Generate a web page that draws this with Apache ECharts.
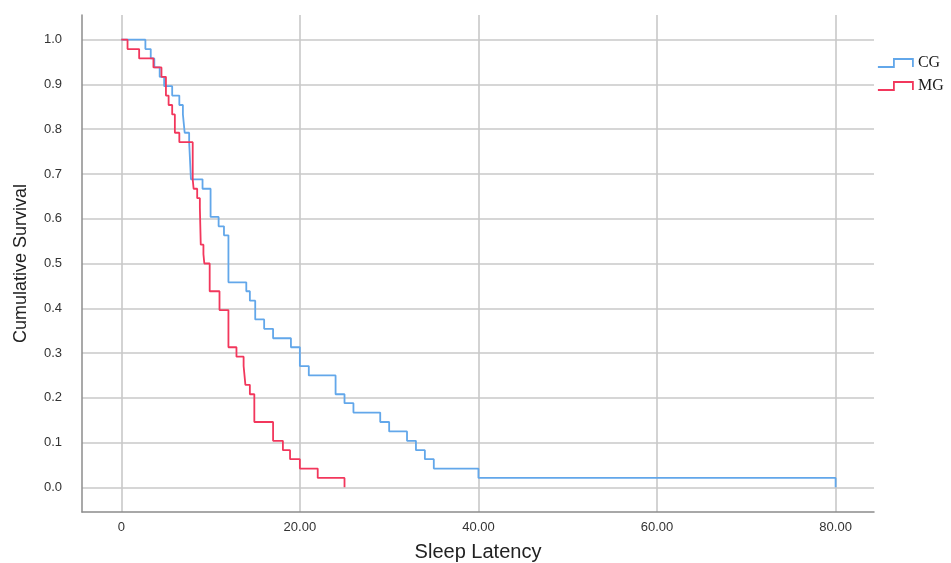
<!DOCTYPE html>
<html lang="en">
<head>
	<meta charset="utf-8">
	<title>Sleep Latency survival</title>
	<script src="https://cdn.jsdelivr.net/npm/echarts@6.0.0/dist/echarts.min.js"></script>
	<style>
		html, body { margin: 0; padding: 0; background: #fff; }
		#chart { width: 951px; height: 563px; }
	</style>
</head>
<body>
<div id="chart"></div>
<script>
// Kaplan-Meier steps: time and survival after each event
var cgTime = [0, 2.7, 3.3, 3.7, 4.3, 4.8, 5.7, 6.5, 6.9, 7.1, 7.6, 7.8, 9.1, 10.0, 10.9, 11.5, 12.0, 14.0, 14.4, 15.0, 16.0, 17.0, 19.0, 20.0, 21.0, 24.0, 25.0, 26.0, 29.0, 30.0, 32.0, 33.0, 34.0, 35.0, 40.0, 80.0];
var cgSurv = [1.0, 0.979, 0.958, 0.938, 0.917, 0.896, 0.875, 0.854, 0.833, 0.792, 0.771, 0.688, 0.667, 0.604, 0.583, 0.563, 0.458, 0.438, 0.417, 0.375, 0.354, 0.333, 0.313, 0.271, 0.25, 0.208, 0.188, 0.167, 0.146, 0.125, 0.104, 0.083, 0.063, 0.042, 0.021, 0];
var mgTime = [0, 0.7, 2.0, 3.6, 4.5, 5.0, 5.3, 5.7, 6.0, 6.5, 8.0, 8.1, 8.5, 8.8, 8.9, 9.2, 9.3, 9.9, 11.0, 12.0, 12.9, 13.7, 13.9, 14.4, 14.9, 17.0, 18.1, 18.9, 20.0, 22.0, 25.0];
var mgSurv = [1.0, 0.979, 0.958, 0.938, 0.917, 0.875, 0.854, 0.833, 0.792, 0.771, 0.688, 0.667, 0.646, 0.625, 0.542, 0.521, 0.5, 0.438, 0.396, 0.313, 0.292, 0.271, 0.229, 0.208, 0.146, 0.104, 0.083, 0.063, 0.042, 0.021, 0];
var xTicks = [0, 20, 40, 60, 80];
var yTicks = [0, 0.1, 0.2, 0.3, 0.4, 0.5, 0.6, 0.7, 0.8, 0.9, 1.0];

function pairs(t, s) {
	var out = [];
	for (var i = 0; i < t.length; i++) out.push([t[i], s[i]]);
	return out;
}

var chart = echarts.init(document.getElementById('chart'));
var stepIcon = 'path://M0,8 L16,8 L16,0 L35,0 L35,8';

chart.setOption({
	animation: false,
	grid: { left: 82, right: 77, top: 15, bottom: 51, outerBoundsMode: 'none', containLabel: false },
	legend: {
		orient: 'vertical',
		left: 872,
		top: 50,
		padding: 5,
		itemWidth: 35,
		itemHeight: 8,
		itemGap: 7,
		icon: stepIcon,
		textStyle: { fontFamily: 'Liberation Serif', fontSize: 16, color: '#1a1a1a' },
		data: [
			{ name: 'CG', itemStyle: { color: 'transparent', borderColor: '#62a7ea', borderWidth: 1.8 } },
			{ name: 'MG', itemStyle: { color: 'transparent', borderColor: '#f2375c', borderWidth: 1.8 } }
		]
	},
	xAxis: {
		type: 'value',
		min: -4.4,
		max: 84.3,
		name: 'Sleep Latency',
		nameLocation: 'middle',
		nameGap: 30,
		nameTextStyle: { fontFamily: 'Liberation Sans', fontSize: 20, color: '#222' },
		axisLine: { onZero: false, lineStyle: { color: '#8c8c8c', width: 1.5 } },
		axisTick: { show: false, customValues: xTicks },
		axisLabel: {
			customValues: xTicks,
			margin: 9,
			fontFamily: 'Liberation Sans', fontSize: 13, color: '#333',
			formatter: function (v) { return v === 0 ? '0' : v.toFixed(2); }
		},
		splitLine: { show: true, lineStyle: { color: '#c8c8c8', width: 1.6 } }
	},
	yAxis: {
		type: 'value',
		min: -0.055,
		max: 1.055,
		name: 'Cumulative Survival',
		nameLocation: 'middle',
		nameGap: 52,
		nameTextStyle: { fontFamily: 'Liberation Sans', fontSize: 18, color: '#222' },
		axisLine: { show: true, onZero: false, lineStyle: { color: '#8c8c8c', width: 1.5 } },
		axisTick: { show: false, customValues: yTicks },
		axisLabel: {
			customValues: yTicks,
			margin: 20,
			fontFamily: 'Liberation Sans', fontSize: 13, color: '#333',
			formatter: function (v) { return v.toFixed(1); }
		},
		splitLine: { show: true, lineStyle: { color: '#c8c8c8', width: 1.6 } }
	},
	series: [
		{
			name: 'CG',
			type: 'line',
			step: 'end',
			showSymbol: false,
			color: '#62a7ea',
			lineStyle: { width: 1.8, color: '#62a7ea' },
			data: pairs(cgTime, cgSurv)
		},
		{
			name: 'MG',
			type: 'line',
			step: 'end',
			showSymbol: false,
			color: '#f2375c',
			lineStyle: { width: 1.8, color: '#f2375c' },
			data: pairs(mgTime, mgSurv)
		}
	]
});
</script>
</body>
</html>
